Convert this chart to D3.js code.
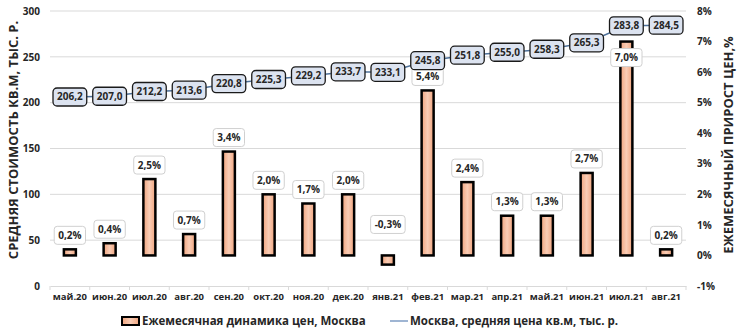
<!DOCTYPE html>
<html>
<head>
<meta charset="utf-8">
<script src="https://cdn.jsdelivr.net/npm/d3@7"></script>
<style>
  body { margin: 0; background: #fff; }
  svg { font-family: "Open Sans", sans-serif; }
  text { fill: #262626; }
</style>
</head>
<body>
<svg class="chart" width="740" height="331"></svg>
<script>
const months = ["май.20", "июн.20", "июл.20", "авг.20", "сен.20", "окт.20", "ноя.20", "дек.20",
    "янв.21", "фев.21", "мар.21", "апр.21", "май.21", "июн.21", "июл.21", "авг.21"]
const growth = [0.2, 0.4, 2.5, 0.7, 3.4, 2.0, 1.7, 2.0, -0.3, 5.4, 2.4, 1.3, 1.3, 2.7, 7.0, 0.2]
const price = [206.2, 207.0, 212.2, 213.6, 220.8, 225.3, 229.2, 233.7, 233.1, 245.8, 251.8, 255.0, 258.3, 265.3, 283.8, 284.5]
const leftTicks = [0, 50, 100, 150, 200, 250, 300]
const rightTicks = [-1, 0, 1, 2, 3, 4, 5, 6, 7, 8]

const svg = d3.select("svg.chart")
const comma = v => d3.format(".1f")(v).replace(".", ",").replace("\u2212", "-")

const x = d3.scaleBand()
    .domain(months)
    .range([50, 686])
    .paddingInner(0)

const yLeft = d3.scaleLinear()
    .domain([0, 300])
    .range([286, 11])

const yRight = d3.scaleLinear()
    .domain([-1, 8])
    .range([286, 11])

// gradient for bars
const grad = svg.append("defs").append("linearGradient")
    .attr("id", "barGrad")
    .attr("x1", "0%").attr("x2", "100%").attr("y1", "0%").attr("y2", "0%")
grad.append("stop").attr("offset", "0%").attr("stop-color", "#f0a47e")
grad.append("stop").attr("offset", "50%").attr("stop-color", "#f9cdb6")
grad.append("stop").attr("offset", "100%").attr("stop-color", "#f0a47e")

// gridlines
svg.append("g")
    .selectAll("line")
    .data(leftTicks.filter(d => d > 0))
    .enter()
    .append("line")
    .attr("x1", 50)
    .attr("x2", 686)
    .attr("y1", d => yLeft(d))
    .attr("y2", d => yLeft(d))
    .attr("stroke", "#d9d9d9")
    .attr("stroke-width", 1)

// bottom axis
const xAxis = svg.append("g")
    .attr("transform", "translate(0," + yLeft(0) + ")")
    .call(d3.axisBottom(x).tickSize(0).tickPadding(7))
xAxis.select(".domain").attr("stroke", "#d9d9d9")
xAxis.selectAll("text")
    .attr("font-size", "9.5px")
    .attr("font-weight", "bold")
    .attr("font-family", "Open Sans")
    .attr("fill", "#262626")
xAxis.selectAll(".bound")
    .data(months.concat([null]))
    .enter()
    .append("line")
    .attr("x1", (d, i) => 50 + i * x.step())
    .attr("x2", (d, i) => 50 + i * x.step())
    .attr("y1", 0)
    .attr("y2", 4)
    .attr("stroke", "#d9d9d9")

// left axis
const leftAxis = svg.append("g")
    .attr("transform", "translate(46,0)")
    .call(d3.axisLeft(yLeft).tickValues(leftTicks).tickSize(0).tickPadding(6))
leftAxis.select(".domain").remove()
leftAxis.selectAll("text")
    .attr("font-size", "10px")
    .attr("font-weight", "bold")
    .attr("font-family", "Open Sans")
    .attr("fill", "#262626")

// right axis
const rightAxis = svg.append("g")
    .attr("transform", "translate(691,0)")
    .call(d3.axisRight(yRight).tickValues(rightTicks).tickSize(0).tickPadding(6)
        .tickFormat(d => d + "%"))
rightAxis.select(".domain").remove()
rightAxis.selectAll("text")
    .attr("font-size", "10px")
    .attr("font-weight", "bold")
    .attr("font-family", "Open Sans")
    .attr("fill", "#262626")

// axis titles
svg.append("text")
    .attr("transform", "translate(18,140) rotate(-90)")
    .attr("text-anchor", "middle")
    .attr("font-size", "13px")
    .attr("font-weight", "bold")
    .text("СРЕДНЯЯ СТОИМОСТЬ КВ.М, ТЫС. Р.")

svg.append("text")
    .attr("transform", "translate(733,145) rotate(-90)")
    .attr("text-anchor", "middle")
    .attr("font-size", "13px")
    .attr("font-weight", "bold")
    .text("ЕЖЕМЕСЯЧНЫЙ ПРИРОСТ ЦЕН,%")

// bars
const barW = 12
const barGroups = svg.append("g")
    .selectAll("g")
    .data(growth)
    .enter()
    .append("g")
    .attr("transform", (d, i) => "translate(" + (x(months[i]) + x.bandwidth() / 2) + ",0)")

barGroups
    .append("rect")
    .attr("x", -barW / 2)
    .attr("y", d => yRight(Math.max(d, 0)))
    .attr("width", barW)
    .attr("height", d => Math.abs(yRight(d) - yRight(0)))
    .attr("fill", "url(#barGrad)")
    .attr("stroke", "#000")
    .attr("stroke-width", 2.5)

// bar labels
const barLabelY = d => {
    if (d < 0) return yRight(0) - 31
    if (d > 6) return yRight(d) + 16
    return yRight(d) - 14
}
const barLabels = barGroups.append("g")
    .attr("transform", d => "translate(0," + barLabelY(d) + ")")
barLabels.append("rect")
    .attr("class", "box")
    .attr("fill", "#fff")
    .attr("stroke", "#d0d0d0")
    .attr("stroke-width", 1)
    .attr("rx", 3)
barLabels.append("text")
    .attr("text-anchor", "middle")
    .attr("dy", "0.35em")
    .attr("font-size", "10px")
    .attr("font-weight", "bold")
    .text(d => comma(d) + "%")
barLabels.each(function () {
    const g = d3.select(this)
    const w = g.select("text").node().getComputedTextLength() + 8
    g.select("rect").attr("x", -w / 2).attr("y", -9).attr("width", w).attr("height", 18)
})

// price line
const cx = (d, i) => x(months[i]) + x.bandwidth() / 2
svg.append("path")
    .datum(price)
    .attr("fill", "none")
    .attr("stroke", "#4f7199")
    .attr("stroke-width", 1.5)
    .attr("d", d3.line().x(cx).y(d => yLeft(d)))

const priceLabels = svg.append("g")
    .selectAll("g")
    .data(price)
    .enter()
    .append("g")
    .attr("transform", (d, i) => "translate(" + cx(d, i) + "," + yLeft(d) + ")")
priceLabels.append("rect")
    .attr("fill", "#dce3f0")
    .attr("stroke", "#1a1a1a")
    .attr("stroke-width", 1.3)
    .attr("rx", 4)
priceLabels.append("text")
    .attr("text-anchor", "middle")
    .attr("dy", "0.35em")
    .attr("font-size", "10px")
    .attr("font-weight", "bold")
    .text(d => comma(d))
priceLabels.each(function () {
    const g = d3.select(this)
    const w = g.select("text").node().getComputedTextLength() + 8
    g.select("rect").attr("x", -w / 2).attr("y", -9).attr("width", w).attr("height", 18)
})

// legend
const legend = svg.append("g")
legend.append("rect")
    .attr("x", 122)
    .attr("y", 317)
    .attr("width", 17)
    .attr("height", 8)
    .attr("fill", "url(#barGrad)")
    .attr("stroke", "#000")
    .attr("stroke-width", 2)
legend.append("text")
    .attr("x", 142)
    .attr("y", 321)
    .attr("dy", "0.35em")
    .attr("font-size", "11.5px")
    .attr("font-weight", "bold")
    .text("Ежемесячная динамика цен, Москва")
legend.append("line")
    .attr("x1", 390)
    .attr("x2", 408)
    .attr("y1", 321)
    .attr("y2", 321)
    .attr("stroke", "#7f9cc4")
    .attr("stroke-width", 1.5)
legend.append("text")
    .attr("x", 410)
    .attr("y", 321)
    .attr("dy", "0.35em")
    .attr("font-size", "11.5px")
    .attr("font-weight", "bold")
    .text("Москва, средняя цена кв.м, тыс. р.")
</script>
</body>
</html>
